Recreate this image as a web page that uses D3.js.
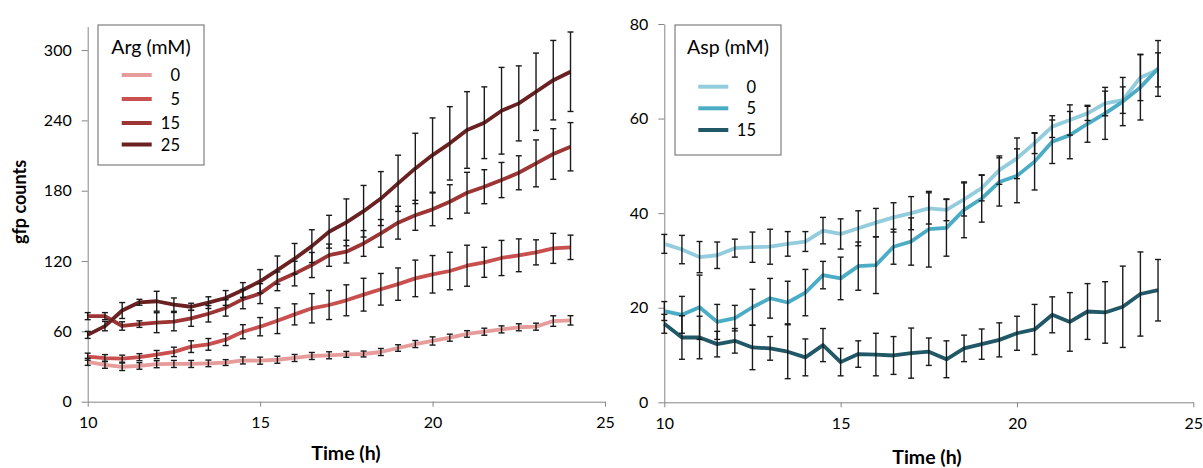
<!DOCTYPE html>
<html>
<head>
<meta charset="utf-8">
<script src="https://cdn.jsdelivr.net/npm/d3@7"></script>
<style>
  body { margin: 0; background: #fff; }
  svg { display: block; font-family: Lato, 'Open Sans', sans-serif; }
  .axis path, .axis line { stroke: #868686; }
  .axis text { font-size: 16px; fill: #000; }
  .title { font-weight: bold; font-size: 19.5px; }
</style>
</head>
<body>
<svg id="chart" width="1203" height="468"></svg>
<script>
const time = [10, 10.5, 11, 11.5, 12, 12.5, 13, 13.5, 14, 14.5, 15, 15.5, 16, 16.5, 17, 17.5, 18, 18.5, 19, 19.5, 20, 20.5, 21, 21.5, 22, 22.5, 23, 23.5, 24]

const argLevels = ['0', '5', '15', '25']
const arg0 = [34, 31.5, 29.8, 30.5, 32, 32.2, 32.2, 32.7, 33.4, 35.2, 35, 35.8, 37.3, 39, 39.6, 40.4, 40.7, 42.4, 45.8, 49.2, 51.8, 54.6, 57.8, 59.7, 61.7, 63.5, 64, 68.8, 69.4]
const arg0Err = [3, 3, 3.2, 2.8, 3, 3, 3, 2.8, 2.5, 3, 3, 3, 3, 3, 3, 2.5, 2.5, 3, 2.8, 3, 3.5, 3, 2.8, 3, 3, 3, 3, 4.5, 4]
const arg5 = [38.4, 37.2, 36.7, 38, 40.2, 42.5, 47, 48.9, 52.9, 59.7, 64, 69.1, 74.5, 79.7, 82.5, 86.5, 91.3, 95.9, 100.3, 105.2, 108.7, 111.5, 116, 118.9, 122.6, 124.9, 127.4, 130.8, 131.7]
const arg5Err = [3, 3, 3, 3, 3.5, 4, 5, 5, 5, 6, 7.8, 11, 9, 12.5, 12.4, 13.2, 14, 13.5, 13.8, 15.6, 16, 16, 17.5, 12.8, 15, 14, 10.7, 12.8, 10.4]
const arg15 = [73, 73, 64.6, 66.2, 67.4, 68.3, 71.1, 75, 80, 87.5, 92.2, 102.7, 109.3, 116.6, 125, 128, 135, 143.6, 152.7, 159, 164.1, 170.6, 178.3, 183.4, 189.1, 195.3, 203.3, 211.3, 217.5]
const arg15Err = [3, 3, 3.6, 2.8, 8.5, 7.8, 6.8, 7, 7, 8.2, 8.5, 8, 10.5, 10.7, 9.5, 9.7, 11, 11.8, 14, 12.8, 14, 14.5, 17.4, 14.5, 15, 14.5, 20, 21.6, 20.6]
const arg25 = [57, 64.5, 77.8, 84.8, 85.7, 82.8, 81, 84.5, 88.5, 95.3, 102.7, 112.3, 122, 132.7, 145, 153, 162.5, 173.3, 186.3, 199, 210.4, 220.4, 231.8, 238, 248.2, 254.5, 264.4, 274.3, 281.5]
const arg25Err = [3, 4, 6.8, 2.5, 8.5, 5.7, 3, 5, 6.3, 6.3, 10, 12, 13, 14, 14, 20, 22, 23, 24, 30, 31.7, 31.3, 32.7, 30.6, 37, 32, 33, 33.9, 33.9]

const aspLevels = ['0', '5', '15']
const asp0 = [33.5, 32.3, 30.7, 31.1, 32.6, 32.8, 32.9, 33.5, 34, 36.3, 35.6, 36.8, 38, 39.1, 40, 41, 40.7, 42.9, 45.3, 49.1, 51.6, 54.8, 58.3, 59.7, 61.1, 63.2, 63.9, 68.7, 70.3]
const asp0Err = [2, 3, 3.3, 2.8, 1.9, 3.2, 3.7, 2.6, 2.1, 2.8, 3.2, 3.7, 3, 3.1, 3.5, 3.3, 2.3, 3.5, 2.7, 3, 4.3, 2.2, 2.3, 3.2, 1.5, 2.6, 2.8, 4.9, 3.6]
const asp5 = [19.3, 18.5, 20.1, 17, 17.8, 20.1, 22, 21.1, 23.2, 26.9, 26.2, 28.8, 29, 32.9, 34, 36.6, 36.9, 40.7, 43.1, 46.6, 47.9, 50.9, 55.1, 56.5, 58.9, 61.1, 63.6, 66.6, 70.6]
const asp5Err = [2, 3.9, 6.8, 3.7, 2.7, 3.8, 4.2, 4.5, 4.9, 2.9, 4.5, 5.1, 6, 3.7, 5, 8, 6, 5.9, 5, 5.1, 5.7, 6, 4.6, 5, 3.9, 5.5, 5.1, 6.9, 5.9]
const asp15 = [16.6, 13.7, 13.7, 12.3, 13, 11.6, 11.4, 10.7, 9.5, 12.1, 8.5, 10.2, 10.1, 9.9, 10.4, 10.7, 9.1, 11.4, 12.3, 13.2, 14.6, 15.4, 18.5, 17, 19.2, 19, 20.2, 22.9, 23.7]
const asp15Err = [2, 4.6, 4.5, 2.7, 2.6, 4.7, 2.5, 5.7, 3.9, 3.5, 2.9, 2.8, 4.5, 4, 5.3, 2.9, 3.9, 2.8, 3.2, 3.6, 3.6, 5.3, 3.8, 6.2, 5.9, 6.5, 8.6, 8.9, 6.5]

const xTicks = [10, 15, 20, 25]
const argTicks = [0, 60, 120, 180, 240, 300]
const aspTicks = [0, 20, 40, 60, 80]

const svg = d3.select('#chart')

function panel (opt) {
  const x = d3.scaleLinear().domain([10, 25]).range(opt.xRange)
  const y = d3.scaleLinear().domain(opt.yDomain).range(opt.yRange)
  const g = svg.append('g')

  g.append('g').classed('axis', true)
    .attr('transform', `translate(0,${opt.yRange[0]})`)
    .call(d3.axisBottom(x).tickValues(xTicks).tickSize(5).tickSizeOuter(0).tickPadding(10))
  g.append('g').classed('axis', true)
    .attr('transform', `translate(${opt.xRange[0]},0)`)
    .call(d3.axisLeft(y).tickValues(opt.yTicks).tickSize(6).tickSizeOuter(0).tickPadding(10))
  g.selectAll('.axis .domain').attr('stroke', '#868686')
  g.selectAll('.axis text').attr('font-family', 'Lato').attr('font-size', 16)

  const line = d3.line().x((d, i) => x(time[i])).y(d => y(d))
  opt.series.forEach(s => {
    g.append('path').datum(s.values)
      .attr('d', line).attr('fill', 'none')
      .attr('stroke', s.color).attr('stroke-width', 3.8).attr('stroke-linejoin', 'round')
  })
  // error bars over the lines, like the original
  opt.series.forEach(s => {
    const eb = g.append('g').attr('stroke', '#1a1a1a').attr('stroke-width', 1.4)
    s.values.forEach((v, i) => {
      const cx = x(time[i])
      const lo = y(v - s.err[i])
      const hi = y(v + s.err[i])
      eb.append('line').attr('x1', cx).attr('x2', cx).attr('y1', lo).attr('y2', hi)
      eb.append('line').attr('x1', cx - 3).attr('x2', cx + 3).attr('y1', lo).attr('y2', lo)
      eb.append('line').attr('x1', cx - 3).attr('x2', cx + 3).attr('y1', hi).attr('y2', hi)
    })
  })

  g.append('text')
    .attr('x', opt.xTitle[0]).attr('y', opt.xTitle[1])
    .attr('font-weight', 'bold').attr('font-size', 19.5)
    .attr('text-anchor', 'middle').text('Time (h)')

  // legend
  const lg = g.append('g')
  const b = opt.legend
  lg.append('rect').attr('x', b.x).attr('y', b.y).attr('width', b.w).attr('height', b.h)
    .attr('fill', '#fff').attr('stroke', '#7f7f7f').attr('stroke-width', 1.2)
  lg.append('text').attr('x', b.x + b.w / 2).attr('y', b.y + 29)
    .attr('text-anchor', 'middle').attr('font-size', 19.5).text(opt.legendTitle)
  opt.series.forEach((s, i) => {
    const ly = b.rows[i]
    lg.append('line').attr('x1', b.lx).attr('x2', b.lx + 30).attr('y1', ly).attr('y2', ly)
      .attr('stroke', s.color).attr('stroke-width', 4)
    lg.append('text').attr('x', b.tx).attr('y', ly + 6)
      .attr('text-anchor', 'end').attr('font-size', 16.5).text(s.name)
  })
}

panel({
  xRange: [87.7, 605],
  yDomain: [0, 320],
  yRange: [401.7, 26.6],
  yTicks: argTicks,
  xTitle: [346, 460],
  legendTitle: 'Arg (mM)',
  legend: { x: 98, y: 25, w: 106, h: 140, lx: 121.7, tx: 180, rows: [75, 99, 123, 144.5] },
  series: [
    { name: argLevels[0], values: arg0, err: arg0Err, color: '#e59c9a' },
    { name: argLevels[1], values: arg5, err: arg5Err, color: '#c9504e' },
    { name: argLevels[2], values: arg15, err: arg15Err, color: '#9e3535' },
    { name: argLevels[3], values: arg25, err: arg25Err, color: '#6b2121' }
  ]
})

panel({
  xRange: [664.3, 1193.3],
  yDomain: [0, 80],
  yRange: [402.3, 24],
  yTicks: aspTicks,
  xTitle: [927, 464],
  legendTitle: 'Asp (mM)',
  legend: { x: 675, y: 25, w: 106, h: 130, lx: 698.3, tx: 756, rows: [86.7, 108.3, 130] },
  series: [
    { name: aspLevels[0], values: asp0, err: asp0Err, color: '#93cddd' },
    { name: aspLevels[1], values: asp5, err: asp5Err, color: '#4bacc6' },
    { name: aspLevels[2], values: asp15, err: asp15Err, color: '#215867' }
  ]
})

svg.append('text')
  .attr('transform', 'translate(26,202) rotate(-90)')
  .attr('font-weight', 'bold').attr('font-size', 18)
  .attr('text-anchor', 'middle').text('gfp counts')
</script>
</body>
</html>
